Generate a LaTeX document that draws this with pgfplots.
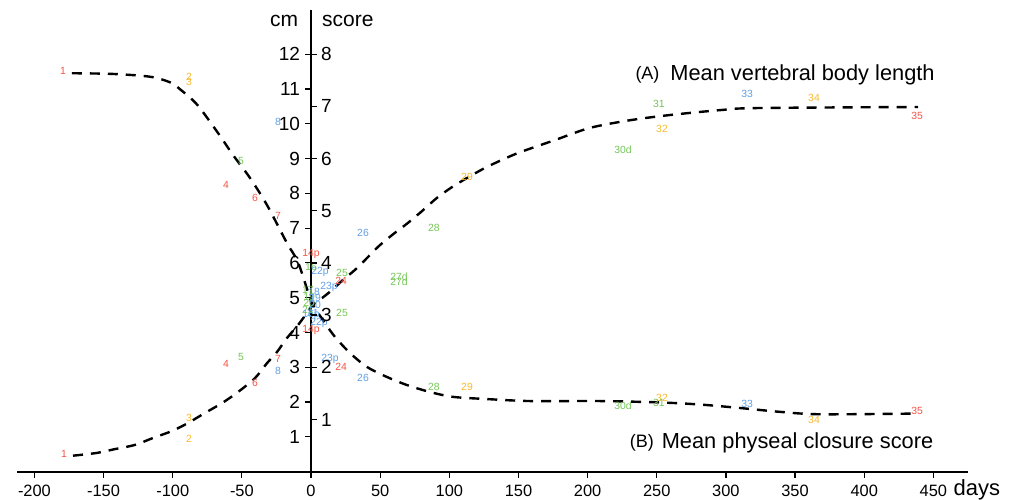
\documentclass[border=0pt]{standalone}
\usepackage{pgfplots}
\pgfplotsset{compat=1.18}
\usepackage{fontspec}
\setmainfont{Liberation Sans}
\definecolor{lred}{RGB}{245,85,70}
\definecolor{lorange}{RGB}{248,185,45}
\definecolor{lgreen}{RGB}{115,198,85}
\definecolor{lblue}{RGB}{95,160,228}
\pgfplotsset{
  lbl/.style={draw=none, mark=none, nodes near coords, point meta=explicit symbolic,
    nodes near coords align=center,
    every node near coord/.append style={font=\fontsize{5.2}{6}\selectfont, text=#1, inner sep=0pt, anchor=center}},
  common/.style={x=0.6915pt, xmin=-212.6, xmax=475, enlargelimits=false, clip=false,
    hide obscured x ticks=false, hide obscured y ticks=false,
    /pgf/number format/assume math mode=true},
}
\begin{document}
\begin{tikzpicture}
\begin{axis}[common, y=17.4pt, ymin=0, ymax=13.27,
  axis lines=middle,
  x axis line style={-, line width=1pt},
  y axis line style={-, line width=0.6pt},
  xtick={-200,-150,...,450}, ytick={1,...,12},
  tick align=outside, major tick length=3pt,
  tick style={black, line width=0.6pt},
  xticklabel style={font=\fontsize{8.2}{10}\selectfont},
  yticklabel style={font=\fontsize{9.5}{11}\selectfont, xshift=1pt},
]
\addplot[black, line width=1.2pt, dash pattern=on 5pt off 4pt, smooth] coordinates {
(-173,11.45) (-143.2,11.43) (-116.4,11.35) (-102,11.19) (-94.7,10.99) (-82.4,10.55)
(-67.2,9.73) (-56.4,9.10) (-44.1,8.44) (-31.8,7.66) (-17.4,6.57) (-9.4,6.02)
(-1.1,5.03) (1.4,4.79) (10.1,4.27) (17.4,3.87) (28.2,3.41) (40.5,3.01) (55,2.72)
(69.4,2.49) (86,2.29) (102.7,2.15) (125.8,2.09) (158.4,2.03) (209,2.03)
(252.4,1.99) (281.3,1.93) (310.2,1.83) (339.1,1.72) (368,1.65) (436.7,1.67)};
\addplot[black, line width=1.2pt, dash pattern=on 5pt off 4pt, smooth] coordinates {
(-172.1,0.46) (-154.7,0.54) (-141.7,0.65) (-127.3,0.77) (-114.2,0.97) (-100.5,1.17)
(-88.9,1.40) (-76.6,1.69) (-64.4,1.97) (-52.8,2.29) (-40.5,2.69) (-31.8,3.12)
(-24.6,3.44) (-17.4,3.84) (-8.7,4.25) (1.4,4.79) (8,4.99) (15.2,5.22) (23.1,5.51)
(31.8,5.80) (39,6.08) (48.4,6.46) (58.6,6.80) (70.1,7.15) (80.3,7.49) (91.1,7.87)
(102,8.18) (112.8,8.44) (125.8,8.73) (138.1,8.96) (151.1,9.18) (176.4,9.53)
(201.7,9.88) (230.7,10.10) (259.6,10.25) (295.7,10.39) (322.5,10.45) (438.9,10.48)};
% specimen labels
\addplot[lbl=lred] table[meta=t] {
x y t
-179.3 11.51 1
-61.5 8.24 4
-40.5 7.86 6
-23.9 7.35 7
-178.6 0.51 1
-61.5 3.09 4
-40.5 2.55 6
-23.9 3.24 7
0 6.25 14p
0 4.07 14p
21.7 5.48 24
21.7 3.01 24
438.2 10.22 35
438.2 1.75 35
};
\addplot[lbl=lorange] table[meta=t] {
x y t
-88.2 11.34 2
-88.2 11.20 3
-88.2 1.54 3
-88.2 0.94 2
112.8 8.47 29
112.8 2.44 29
253.8 9.85 32
253.8 2.12 32
363.7 10.74 34
363.7 1.49 34
};
\addplot[lbl=lgreen] table[meta=t] {
x y t
-50.6 8.93 5
-50.6 3.30 5
0 5.88 16
22.4 5.71 25
22.4 4.56 25
63.6 5.59 27d
63.6 5.45 27d
88.9 7.00 28
88.9 2.44 28
225.6 9.24 30d
225.6 1.89 30d
251.6 10.56 31
251.6 1.97 31
-2.2 5.22 17
-1.4 5.02 19
-1.4 4.85 20
-2.2 4.65 21
};
\addplot[lbl=lblue] table[meta=t] {
x y t
-23.9 10.05 8
-23.9 2.89 8
6.5 5.74 22p
13.0 5.31 23p
13.7 3.25 23p
37.6 6.86 26
37.6 2.69 26
315.3 10.85 33
315.3 1.95 33
5.8 4.27 22p
2.2 5.16 18
2.9 4.99 19
2.9 4.79 20
1.4 4.56 21
0 4.50 16p
};
\node[anchor=base east, font=\fontsize{10.5}{12}\selectfont] at (axis cs:-4.3,12.78) {cm};
\node[anchor=base west, font=\fontsize{10.5}{12}\selectfont] at (axis cs:2.9,12.78) {score};
\node[anchor=base west, font=\fontsize{11}{13}\selectfont] at (axis cs:459.5,-0.67) {days};
\node[font=\fontsize{9}{11}\selectfont] at (axis cs:243.3,11.40) {(A)};
\node[font=\fontsize{10.9}{13}\selectfont] at (axis cs:355.4,11.40) {Mean vertebral body length};
\node[font=\fontsize{9}{11}\selectfont] at (axis cs:239.3,0.816) {(B)};
\node[font=\fontsize{10.9}{13}\selectfont] at (axis cs:351.8,0.816) {Mean physeal closure score};
\coordinate (bbsw) at (axis cs:-224.9,-0.813);
\coordinate (bbne) at (axis cs:507.6,13.555);
\end{axis}
\begin{axis}[common, y=26.1pt, ymin=0, ymax=8.847,
  axis x line=none, axis y line=middle,
  y axis line style={draw=none},
  xtick=\empty, ytick={1,...,8},
  tick align=inside, major tick length=3pt,
  tick style={black, line width=0.6pt},
  yticklabel style={font=\fontsize{9.5}{11}\selectfont, anchor=west, xshift=1.5pt},
]
\end{axis}
\pgfresetboundingbox
\useasboundingbox (bbsw) rectangle (bbne);
\end{tikzpicture}
\end{document}
